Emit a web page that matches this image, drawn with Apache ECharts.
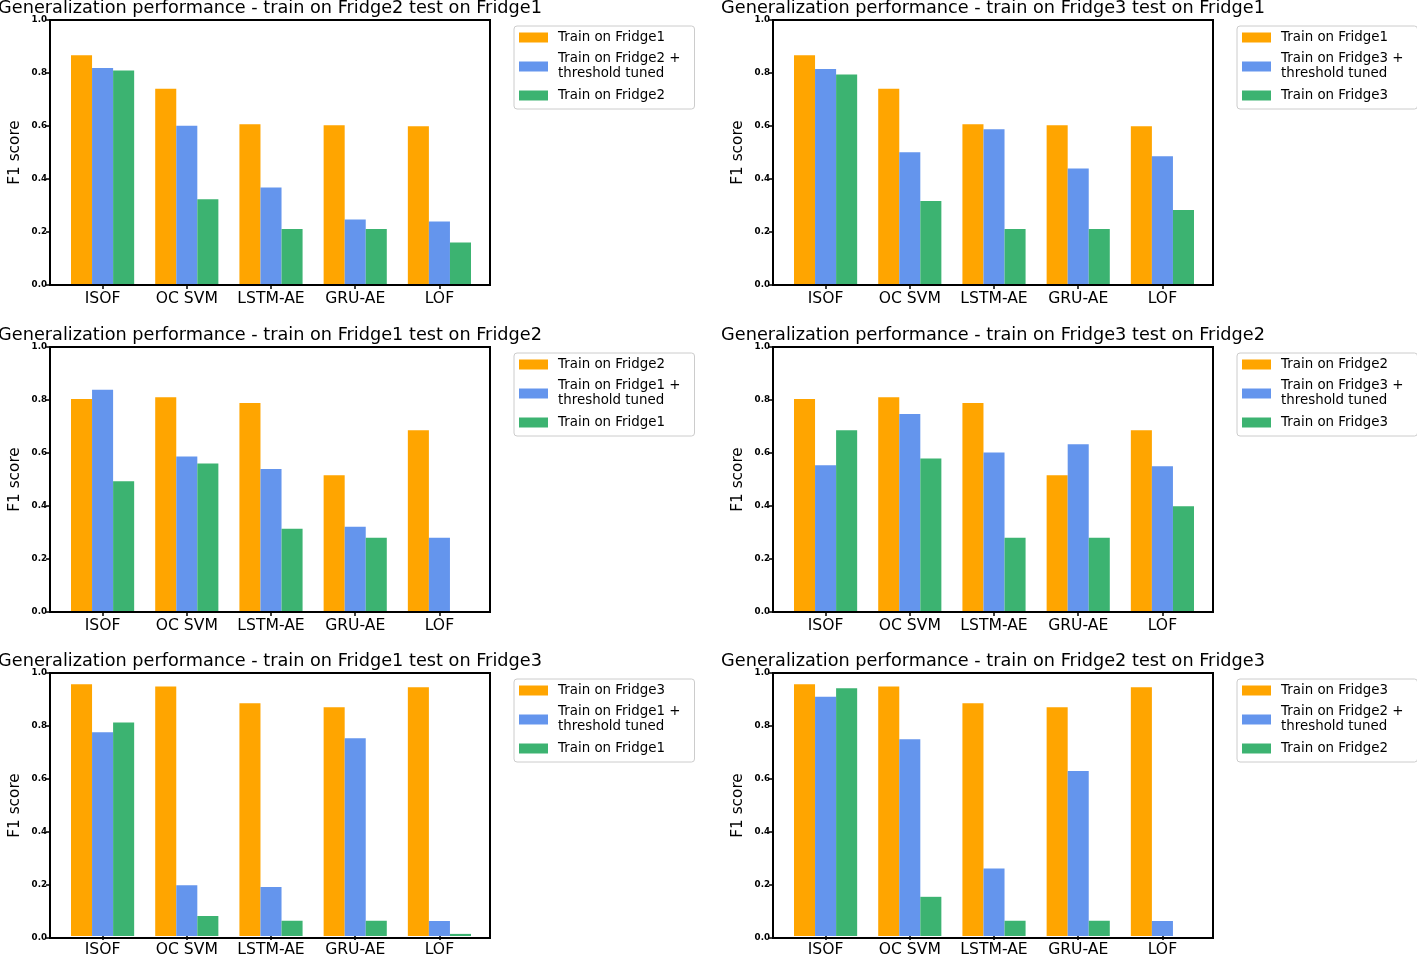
<!DOCTYPE html>
<html>
<head>
<meta charset="utf-8">
<script src="https://cdn.jsdelivr.net/npm/echarts@6/dist/echarts.min.js"></script>
<style>
html,body{margin:0;padding:0;background:#fff;}
#chart{width:1417px;height:958px;}
</style>
</head>
<body>
<div id="chart"></div>
<script>
// ---- data ----
const categories = ['ISOF', 'OC SVM', 'LSTM-AE', 'GRU-AE', 'LOF'];
const yTicks = [0.0, 0.2, 0.4, 0.6, 0.8, 1.0];

const titles = [
  'Generalization performance - train on Fridge2 test on Fridge1',
  'Generalization performance - train on Fridge3 test on Fridge1',
  'Generalization performance - train on Fridge1 test on Fridge2',
  'Generalization performance - train on Fridge3 test on Fridge2',
  'Generalization performance - train on Fridge1 test on Fridge3',
  'Generalization performance - train on Fridge2 test on Fridge3'
];

const legendNames = [
  ['Train on Fridge1', 'Train on Fridge2 +\nthreshold tuned', 'Train on Fridge2'],
  ['Train on Fridge1', 'Train on Fridge3 +\nthreshold tuned', 'Train on Fridge3'],
  ['Train on Fridge2', 'Train on Fridge1 +\nthreshold tuned', 'Train on Fridge1'],
  ['Train on Fridge2', 'Train on Fridge3 +\nthreshold tuned', 'Train on Fridge3'],
  ['Train on Fridge3', 'Train on Fridge1 +\nthreshold tuned', 'Train on Fridge1'],
  ['Train on Fridge3', 'Train on Fridge2 +\nthreshold tuned', 'Train on Fridge2']
];

// test on Fridge1
const trainF1_testF1 = [0.867, 0.741, 0.607, 0.603, 0.599];
const tunedF2_testF1 = [0.819, 0.601, 0.368, 0.247, 0.240];
const trainF2_testF1 = [0.809, 0.324, 0.211, 0.211, 0.160];
const tunedF3_testF1 = [0.815, 0.501, 0.588, 0.440, 0.486];
const trainF3_testF1 = [0.794, 0.317, 0.211, 0.211, 0.283];
// test on Fridge2
const trainF2_testF2 = [0.804, 0.810, 0.789, 0.516, 0.686];
const tunedF1_testF2 = [0.839, 0.587, 0.540, 0.322, 0.280];
const trainF1_testF2 = [0.493, 0.560, 0.314, 0.280, 0.003];
const tunedF3_testF2 = [0.554, 0.747, 0.602, 0.633, 0.550];
const trainF3_testF2 = [0.686, 0.579, 0.280, 0.280, 0.399];
// test on Fridge3
const trainF3_testF3 = [0.957, 0.949, 0.885, 0.870, 0.946];
const tunedF1_testF3 = [0.775, 0.193, 0.186, 0.752, 0.057];
const trainF1_testF3 = [0.812, 0.076, 0.058, 0.058, 0.008];
const tunedF2_testF3 = [0.910, 0.748, 0.257, 0.627, 0.057];
const trainF2_testF3 = [0.942, 0.149, 0.058, 0.058, 0.000];

const panelValues = [
  [trainF1_testF1, tunedF2_testF1, trainF2_testF1],
  [trainF1_testF1, tunedF3_testF1, trainF3_testF1],
  [trainF2_testF2, tunedF1_testF2, trainF1_testF2],
  [trainF2_testF2, tunedF3_testF2, trainF3_testF2],
  [trainF3_testF3, tunedF1_testF3, trainF1_testF3],
  [trainF3_testF3, tunedF2_testF3, trainF2_testF3]
];

// ---- styling / layout ----
const colors = ['#FFA500', '#6495ED', '#3CB371'];
const FONT = 'DejaVu Sans';
const colLeft = [50, 773];
const rowTop = [20, 347, 673];
const axW = 440, axH = 265;
const pxPerUnit = axW / 5.225;           // x-limits -0.6125 .. 4.6125
const innerOffset = (0.6125 - 0.5) * pxPerUnit;
const innerW = 5 * pxPerUnit;

const option = {
  animation: false,
  backgroundColor: '#fff',
  title: [], grid: [], xAxis: [], yAxis: [], series: [], legend: []
};

for (let p = 0; p < 6; p++) {
  const r = Math.floor(p / 2), c = p % 2;
  const L = colLeft[c], T = rowTop[r];
  const gOuter = 2 * p, gInner = 2 * p + 1;

  option.title.push({
    text: titles[p],
    left: L + axW / 2,
    top: T - 21,
    textAlign: 'center',
    padding: 0,
    textStyle: { fontFamily: FONT, fontSize: 17.7, fontWeight: 'normal', color: '#000' }
  });

  option.grid.push({
    left: L, top: T, width: axW, height: axH,
    show: true, borderColor: '#000', borderWidth: 2, backgroundColor: 'transparent', z: 10
  });
  option.grid.push({
    left: L + innerOffset + 1, top: T, width: innerW, height: axH
  });

  option.xAxis.push({
    type: 'value', gridIndex: gOuter, min: 0, max: 1, show: false
  });
  option.yAxis.push({
    type: 'value', gridIndex: gOuter, min: yTicks[0], max: yTicks[yTicks.length - 1], interval: 0.2,
    axisLine: { show: false },
    axisTick: { show: true, length: 4, lineStyle: { color: '#000', width: 1.5 } },
    splitLine: { show: false },
    axisLabel: {
      margin: 3, color: '#000', fontFamily: FONT, fontSize: 8.7, fontWeight: 'bold',
      formatter: v => v.toFixed(1)
    },
    name: 'F1 score', nameLocation: 'middle', nameGap: 27,
    nameTextStyle: { fontFamily: FONT, fontSize: 15.3, color: '#000' }
  });

  option.xAxis.push({
    type: 'category', gridIndex: gInner, data: categories,
    axisLine: { show: false },
    axisTick: { show: true, alignWithLabel: true, interval: 0, length: 4, lineStyle: { color: '#000', width: 1.5 } },
    axisLabel: { interval: 0, margin: 6, color: '#000', fontFamily: FONT, fontSize: 15.6 },
    splitLine: { show: false }
  });
  option.yAxis.push({
    type: 'value', gridIndex: gInner, min: 0, max: 1, show: false
  });

  for (let s = 0; s < 3; s++) {
    option.series.push({
      type: 'bar', name: legendNames[p][s],
      xAxisIndex: gInner, yAxisIndex: gInner,
      data: panelValues[p][s],
      barWidth: '25%', barGap: '0%',
      itemStyle: { color: colors[s] },
      emphasis: { disabled: true }
    });
  }

  option.legend.push({
    orient: 'vertical',
    left: L + axW + 24, top: T + 6,
    data: legendNames[p].map((n, i) => ({ name: n, itemStyle: { color: colors[i] } })),
    icon: 'rect', itemWidth: 29, itemHeight: 10, itemGap: 6.5,
    padding: [4, 14, 6, 5],
    borderColor: '#cccccc', borderWidth: 1, borderRadius: 3,
    backgroundColor: '#fff',
    selectedMode: false,
    textStyle: { fontFamily: FONT, fontSize: 13.4, lineHeight: 15, color: '#000', padding: [0, 0, 0, 5] }
  });
}

const chart = echarts.init(document.getElementById('chart'), null, { renderer: 'canvas' });
chart.setOption(option);
</script>
</body>
</html>
